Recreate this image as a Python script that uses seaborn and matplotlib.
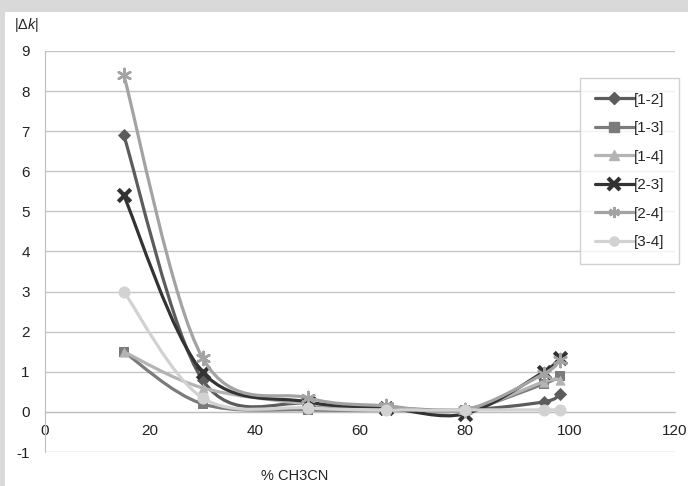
import numpy as np
import pandas as pd
import matplotlib
matplotlib.use("Agg")
import matplotlib.pyplot as plt
import seaborn as sns
from matplotlib.path import Path
from matplotlib.patches import PathPatch, Rectangle
from matplotlib.lines import Line2D

# data
pct_ch3cn = [15, 30, 50, 65, 80, 95, 98]
s12 = [6.9, 0.8, 0.2, 0.1, 0.05, 0.25, 0.45]
s13 = [1.5, 0.2, 0.05, 0.05, 0.05, 0.7, 0.9]
s14 = [1.5, 0.6, 0.2, 0.1, 0.05, 0.75, 0.8]
s23 = [5.4, 1.0, 0.25, 0.1, -0.05, 1.0, 1.35]
s24 = [8.4, 1.35, 0.35, 0.15, 0.05, 0.95, 1.3]
s34 = [3.0, 0.35, 0.1, 0.05, 0.05, 0.05, 0.05]

labels = ["[1-2]", "[1-3]", "[1-4]", "[2-3]", "[2-4]", "[3-4]"]
values = [s12, s13, s14, s23, s24, s34]
colors = ["#5c5c5c", "#7b7b7b", "#b4b4b4", "#333333", "#a3a3a3", "#d2d2d2"]
markers = ["D", "s", "^", "x", (6, 2, 0), "o"]
msizes = [45, 45, 55, 80, 90, 75]
mlw = [0, 0, 0, 3, 1.8, 0]

df = pd.DataFrame({"pct": pct_ch3cn * len(labels),
                   "dk": sum(values, []),
                   "pair": np.repeat(labels, len(pct_ch3cn))})

sns.set_style("white")
plt.rcParams["font.family"] = ["Liberation Sans", "DejaVu Sans"]
plt.rcParams["axes.unicode_minus"] = False
plt.rcParams["mathtext.fontset"] = "custom"
plt.rcParams["mathtext.rm"] = "Liberation Sans"
plt.rcParams["mathtext.it"] = "Liberation Sans:italic"

fig = plt.figure(figsize=(6.88, 4.86), dpi=100, facecolor="#d9d9d9")
fig.patches.append(Rectangle((5 / 688, 0), 1, (486 - 12) / 486, transform=fig.transFigure,
                             facecolor="white", edgecolor="none", zorder=-10))
ax = fig.add_axes([45 / 688, 34 / 486, 630 / 688, 401 / 486])
ax.set_facecolor("none")


def smooth_path(xs, ys):
    # Excel style smoothed line: catmull-rom segments as cubic bezier
    pts = np.column_stack([xs, ys]).astype(float)
    ext = np.vstack([pts[0], pts, pts[-1]])
    verts = [tuple(pts[0])]
    codes = [Path.MOVETO]
    for i in range(1, len(ext) - 2):
        p0, p1, p2, p3 = ext[i - 1], ext[i], ext[i + 1], ext[i + 2]
        c1 = p1 + (p2 - p0) / 6
        c2 = p2 - (p3 - p1) / 6
        verts += [tuple(c1), tuple(c2), tuple(p2)]
        codes += [Path.CURVE4] * 3
    return Path(verts, codes)


for i, lab in enumerate(labels):
    sub = df[df["pair"] == lab]
    ax.add_patch(PathPatch(smooth_path(sub["pct"], sub["dk"]), facecolor="none",
                           edgecolor=colors[i], lw=2.3, zorder=3 + i, capstyle="round"))
    sns.scatterplot(x=sub["pct"], y=sub["dk"], marker=markers[i], s=msizes[i],
                    color=colors[i], edgecolor=colors[i] if mlw[i] == 0 else None,
                    linewidth=mlw[i], ax=ax, zorder=3.5 + i, legend=False)

ax.set_xlim(0, 120)
ax.set_ylim(-1, 9)
ax.set_xticks(range(0, 121, 20))
ax.set_yticks(range(-1, 10))
ax.set_xlabel("")
ax.set_ylabel("")
ax.yaxis.grid(True, color="#c6c6c6", lw=1)
ax.set_axisbelow(True)
for sp in ["top", "right"]:
    ax.spines[sp].set_visible(False)
ax.spines["bottom"].set_position(("data", 0))
ax.spines["bottom"].set_color("#bdbdbd")
ax.spines["left"].set_color("#bdbdbd")
ax.tick_params(axis="both", direction="out", length=5, color="#bdbdbd",
               labelsize=11, labelcolor="#222222", width=1)
ax.tick_params(axis="x", pad=4)
ax.tick_params(axis="y", pad=6)

fig.text(14 / 688, 1 - 25 / 486, r"$|\Delta\mathit{k}|$", fontsize=10.5, va="center",
         color="#222222")
fig.text(295 / 688, 1 - 476 / 486, "% CH3CN", fontsize=10.5, ha="center", va="center",
         color="#222222")

handles = [Line2D([], [], color=colors[i], lw=2.3, marker=markers[i],
                  markersize=8 if mlw[i] else 6.5,
                  markeredgewidth=mlw[i] if mlw[i] else 1,
                  markeredgecolor=colors[i]) for i in range(len(labels))]
leg = fig.legend(handles, labels, loc="upper left", bbox_to_anchor=(580 / 688, 1 - 78 / 486),
                 frameon=True, fancybox=False, fontsize=11, handlelength=2.6,
                 handletextpad=0.0, labelspacing=0.95, borderpad=0.95, borderaxespad=0)
leg.get_frame().set_edgecolor("#c6c6c6")
leg.get_frame().set_linewidth(1)

fig.savefig("out.png", dpi=100, facecolor=fig.get_facecolor())
